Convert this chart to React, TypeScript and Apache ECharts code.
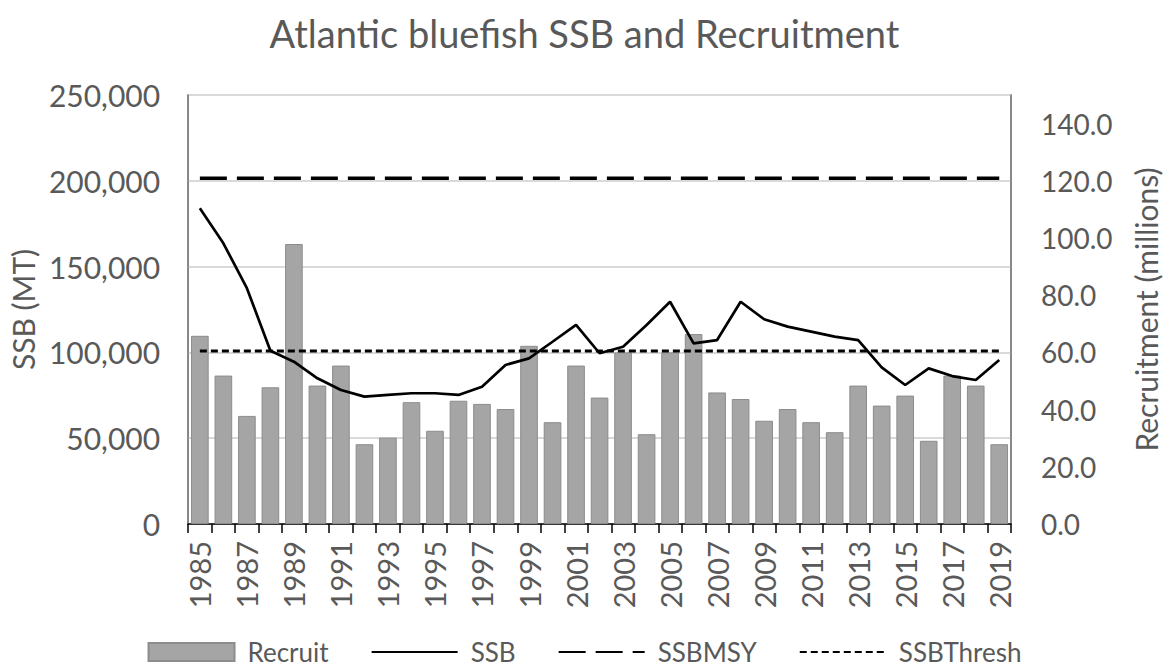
import React, { useEffect, useRef } from "react";
import * as echarts from "echarts";

const years = [
  "1985", "1986", "1987", "1988", "1989", "1990", "1991", "1992", "1993", "1994",
  "1995", "1996", "1997", "1998", "1999", "2000", "2001", "2002", "2003", "2004",
  "2005", "2006", "2007", "2008", "2009", "2010", "2011", "2012", "2013", "2014",
  "2015", "2016", "2017", "2018", "2019",
];

// Recruitment (millions), right axis
const recruit = [
  65.8, 51.9, 37.8, 47.8, 97.9, 48.4, 55.4, 27.9, 30.2, 42.6,
  32.6, 43.1, 42.0, 40.2, 62.3, 35.6, 55.4, 44.2, 60.0, 31.4,
  60.0, 66.4, 46.0, 43.7, 36.1, 40.2, 35.6, 32.1, 48.4, 41.4,
  44.9, 29.1, 51.9, 48.4, 27.9,
];

// SSB (MT), left axis
const ssb = [
  184000, 163600, 137400, 101000, 94600, 84900, 78100, 74200, 75200, 76200,
  76200, 75200, 80000, 92700, 96500, 106200, 116000, 99500, 103300, 116000,
  129500, 105300, 107200, 129500, 119300, 115000, 112100, 109200, 107200, 91300,
  81000, 90700, 86200, 83900, 95600,
];

const SSB_MSY = 201500;
const SSB_THRESH = 100750;

const leftTicks = { min: 0, max: 250000, interval: 50000 };
const rightTicks = { min: 0, max: 150, interval: 20 };

const TXT = "#595959";
const FONT = "Lato";
const HIDE_SYMBOL = { color: "rgba(0,0,0,0)", borderColor: "rgba(0,0,0,0)", borderWidth: 0 };

export default function App() {
  const ref = useRef<HTMLDivElement>(null);

  useEffect(() => {
    if (!ref.current) return;
    const chart = echarts.init(ref.current, undefined, { renderer: "svg" });
    chart.setOption({
      animation: false,
      backgroundColor: "#ffffff",
      textStyle: { fontFamily: FONT, color: TXT },
      title: {
        text: "Atlantic bluefish SSB and Recruitment",
        left: "center",
        top: 9,
        textStyle: { fontFamily: FONT, fontSize: 38, fontWeight: "normal", color: TXT },
      },
      legend: {
        left: "center",
        top: 638,
        padding: 0,
        itemWidth: 86,
        itemHeight: 18,
        itemGap: 42,
        textStyle: {
          fontFamily: FONT,
          fontSize: 26,
          lineHeight: 28,
          color: TXT,
          padding: [0, 0, 0, 8],
        },
        data: [
          { name: "Recruit", icon: "rect" },
          { name: "SSB", itemStyle: HIDE_SYMBOL },
          { name: "SSBMSY", itemStyle: HIDE_SYMBOL },
          { name: "SSBThresh", itemStyle: HIDE_SYMBOL },
        ],
      },
      grid: {
        left: 185,
        right: 158,
        top: 95,
        bottom: 148,
        show: true,
        borderColor: "#808080",
        borderWidth: 1.5,
      },
      xAxis: {
        type: "category",
        data: years,
        boundaryGap: true,
        axisLine: { lineStyle: { color: "#000000", width: 1.5 } },
        axisTick: { show: true, interval: 0, length: 9, lineStyle: { color: "#000000", width: 1.5 } },
        axisLabel: {
          interval: 1,
          rotate: 90,
          margin: 17,
          fontFamily: FONT,
          fontSize: 29,
          color: TXT,
        },
      },
      yAxis: [
        {
          type: "value",
          min: leftTicks.min,
          max: leftTicks.max,
          interval: leftTicks.interval,
          name: "SSB (MT)",
          nameLocation: "middle",
          nameGap: 143,
          nameTextStyle: { fontFamily: FONT, fontSize: 30, color: TXT },
          axisLine: { show: true, lineStyle: { color: "#808080", width: 1.5 } },
          axisTick: { show: false },
          splitLine: { show: true, lineStyle: { color: "#d9d9d9", width: 2 } },
          axisLabel: {
            margin: 28,
            fontFamily: FONT,
            fontSize: 30,
            color: TXT,
            formatter: (v: number) => v.toLocaleString("en-US"),
          },
        },
        {
          type: "value",
          min: rightTicks.min,
          max: rightTicks.max,
          interval: rightTicks.interval,
          position: "right",
          name: "Recruitment (millions)",
          nameLocation: "middle",
          nameGap: 120,
          nameTextStyle: { fontFamily: FONT, fontSize: 30, color: TXT },
          axisLine: { show: true, lineStyle: { color: "#808080", width: 1.5 } },
          axisTick: { show: false },
          splitLine: { show: false },
          axisLabel: {
            margin: 30,
            fontFamily: FONT,
            fontSize: 28,
            color: TXT,
            formatter: (v: number) => (v > 140 ? "" : v.toFixed(1)),
          },
        },
      ],
      series: [
        {
          name: "Recruit",
          type: "bar",
          yAxisIndex: 1,
          data: recruit,
          barWidth: "75%",
          itemStyle: { color: "#a5a5a5", borderColor: "#8c8c8c", borderWidth: 1 },
          z: 1,
        },
        {
          name: "SSB",
          type: "line",
          yAxisIndex: 0,
          data: ssb,
          symbol: "none",
          lineStyle: { color: "#000000", width: 2.7 },
          itemStyle: { color: "#000000" },
          z: 3,
        },
        {
          name: "SSBMSY",
          type: "line",
          yAxisIndex: 0,
          data: years.map(() => SSB_MSY),
          symbol: "none",
          lineStyle: { color: "#000000", width: 3.5, type: [27, 10] },
          itemStyle: { color: "#000000" },
          z: 3,
        },
        {
          name: "SSBThresh",
          type: "line",
          yAxisIndex: 0,
          data: years.map(() => SSB_THRESH),
          symbol: "none",
          lineStyle: { color: "#000000", width: 3, type: [7, 4] },
          itemStyle: { color: "#000000" },
          z: 3,
        },
      ],
    });
    return () => chart.dispose();
  }, []);

  return (
    <div
      ref={ref}
      style={{ position: "fixed", left: 0, top: 0, width: 1169, height: 672, background: "#fff" }}
    />
  );
}
